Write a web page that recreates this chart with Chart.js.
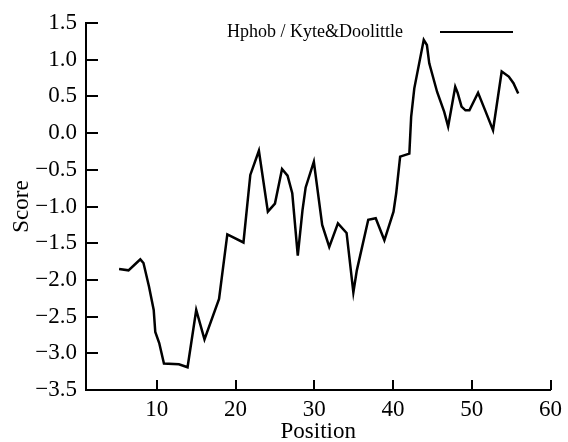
<!DOCTYPE html>
<html>
<head>
<meta charset="utf-8">
<script src="https://cdn.jsdelivr.net/npm/chart.js@4"></script>
<style>
  html, body { margin: 0; padding: 0; background: #fff; }
  #wrap { width: 568px; height: 442px; }
</style>
</head>
<body>
<div id="wrap"><canvas id="myChart"></canvas></div>
<script>
// values
var positions = [5.2, 6.4, 7.4, 7.9, 8.3, 9.0, 9.6, 9.8, 10.3, 10.9, 12.8, 13.9, 15.0, 16.05, 17.9, 18.95,
	21.0, 21.87, 22.96, 24.1, 25.0, 25.9, 26.6, 27.2, 27.9, 28.5, 28.9, 29.94, 31.0, 31.9, 33.0, 34.1,
	34.96, 35.4, 36.85, 37.8, 38.9, 40.06, 40.4, 40.9, 42.07, 42.3, 42.7, 43.9, 44.3, 44.6, 45.6, 46.5,
	47.0, 47.9, 48.2, 48.7, 49.2, 49.7, 50.8, 51.7, 52.7, 53.8, 54.7, 55.3, 55.9];
var scores = [-1.85, -1.87, -1.77, -1.72, -1.77, -2.09, -2.41, -2.71, -2.86, -3.14, -3.15, -3.19, -2.41, -2.81, -2.26, -1.38,
	-1.49, -0.57, -0.24, -1.07, -0.96, -0.49, -0.58, -0.82, -1.67, -1.05, -0.74, -0.39, -1.25, -1.55, -1.23, -1.36,
	-2.17, -1.87, -1.18, -1.16, -1.46, -1.07, -0.82, -0.32, -0.28, 0.22, 0.61, 1.27, 1.2, 0.95, 0.56, 0.29,
	0.09, 0.63, 0.55, 0.36, 0.31, 0.31, 0.55, 0.31, 0.04, 0.84, 0.77, 0.68, 0.54];
var xTicks = [10, 20, 30, 40, 50, 60];
var yTicks = [-3.5, -3.0, -2.5, -2.0, -1.5, -1.0, -0.5, 0.0, 0.5, 1.0, 1.5];
var seriesName = 'Hphob / Kyte&Doolittle';

var serif = "'Liberation Serif', 'DejaVu Serif', serif";

var points = [];
for (var i = 0; i < positions.length; i++) {
	points.push({x: positions[i], y: scores[i]});
}

// tick marks point inward, and the legend has text before the line
var innerTicks = {
	id: 'innerTicks',
	afterDraw: function(chart) {
		var ctx = chart.ctx;
		var xs = chart.scales.x, ys = chart.scales.y;
		ctx.save();
		ctx.strokeStyle = '#000';
		ctx.lineWidth = 2;
		ctx.beginPath();
		xTicks.forEach(function(v) {
			var px = Math.round(xs.getPixelForValue(v));
			ctx.moveTo(px, ys.bottom);
			ctx.lineTo(px, ys.bottom - 10);
		});
		yTicks.forEach(function(v) {
			var py = Math.round(ys.getPixelForValue(v));
			ctx.moveTo(xs.left, py);
			ctx.lineTo(xs.left + 12, py);
		});
		ctx.stroke();

		ctx.font = '18px ' + serif;
		ctx.fillStyle = '#000';
		ctx.textBaseline = 'alphabetic';
		ctx.fillText(chart.data.datasets[0].label, 227, 37);
		ctx.beginPath();
		ctx.moveTo(440, 32);
		ctx.lineTo(513, 32);
		ctx.stroke();
		ctx.restore();
	}
};

var ctx = document.getElementById('myChart').getContext('2d');
var myChart = new Chart(ctx, {
	type: 'line',
	data: {
		datasets: [{
			label: seriesName,
			data: points,
			borderColor: '#000',
			borderWidth: 2.5,
			pointRadius: 0,
			fill: false,
			tension: 0
		}]
	},
	options: {
		responsive: true,
		maintainAspectRatio: false,
		animation: false,
		layout: { padding: { top: 23, right: 13, left: 0, bottom: 0 } },
		plugins: {
			legend: { display: false },
			tooltip: { enabled: false }
		},
		scales: {
			x: {
				type: 'linear',
				min: 1,
				max: 60,
				afterBuildTicks: function(scale) {
					scale.ticks = xTicks.map(function(v) { return {value: v}; });
				},
				afterFit: function(scale) { scale.height = 52; },
				grid: { display: false, drawTicks: false },
				border: { display: true, color: '#000', width: 2 },
				ticks: {
					color: '#000',
					padding: 6,
					maxRotation: 0,
					font: { family: serif, size: 23 }
				},
				title: {
					display: true,
					text: 'Position',
					color: '#000',
					padding: { top: 0, bottom: -4 },
					font: { family: serif, size: 23 }
				}
			},
			y: {
				min: -3.5,
				max: 1.5,
				afterBuildTicks: function(scale) {
					scale.ticks = yTicks.map(function(v) { return {value: v}; });
				},
				afterFit: function(scale) { scale.width = 86; },
				grid: { display: false, drawTicks: false },
				border: { display: true, color: '#000', width: 2 },
				ticks: {
					color: '#000',
					padding: 9,
					font: { family: serif, size: 23 },
					callback: function(v) { return v.toFixed(1).replace('-', '\u2212'); }
				},
				title: {
					display: true,
					text: 'Score',
					color: '#000',
					padding: { top: 8, bottom: 0 },
					font: { family: serif, size: 23 }
				}
			}
		}
	},
	plugins: [innerTicks]
});
</script>
</body>
</html>
